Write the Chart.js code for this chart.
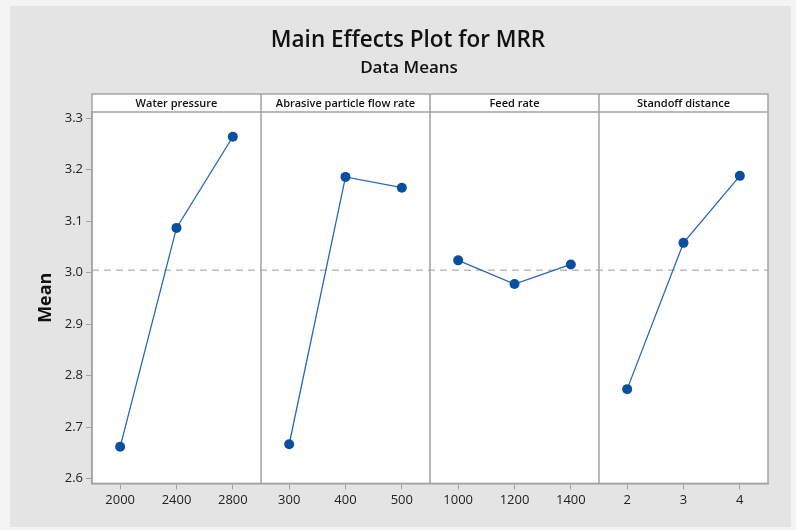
<!DOCTYPE html>
<html>
<head>
<meta charset="utf-8">
<title>Main Effects Plot for MRR</title>
<script src="https://cdn.jsdelivr.net/npm/chart.js@4"></script>
<style>
  html, body { margin: 0; padding: 0; background: #f4f4f4; }
  #wrap { width: 796px; height: 530px; }
</style>
</head>
<body>
<div id="wrap"><canvas id="canvas" width="796" height="530"></canvas></div>
<script>
var chartTitle = 'Main Effects Plot for MRR';
var chartSubtitle = 'Data Means';
var panelNames = ['Water pressure', 'Abrasive particle flow rate', 'Feed rate', 'Standoff distance'];
var levelLabels = ['2000', '2400', '2800', '300', '400', '500', '1000', '1200', '1400', '2', '3', '4'];

var waterPressure = [2.662, 3.087, 3.264];
var abrasiveFlow = [2.667, 3.186, 3.165];
var feedRate = [3.024, 2.978, 3.016];
var standoffDistance = [2.774, 3.058, 3.188];

var grandMean = 3.005;
var yMin = 2.591;
var yMax = 3.312;

var lineColor = '#2566bd';
var dotColor = '#0a4f9e';
var frameColor = '#a3a3a3';

// each factor gets its own 3 slots on the shared category axis
function panelData(values, panel) {
    var out = [];
    for (var i = 0; i < levelLabels.length; i++) out.push(null);
    for (var j = 0; j < values.length; j++) out[panel * 3 + j] = values[j];
    return out;
}

function makeSet(name, values, panel) {
    return {
        label: name,
        data: panelData(values, panel),
        borderColor: lineColor,
        backgroundColor: dotColor,
        borderWidth: 1.3,
        pointRadius: 5,
        pointBackgroundColor: dotColor,
        pointBorderColor: dotColor,
        pointBorderWidth: 0,
        fill: false,
        tension: 0
    };
}

var panelsPlugin = {
    id: 'panels',
    beforeDraw: function(chart) {
        var ctx = chart.ctx;
        var a = chart.chartArea;
        ctx.save();
        ctx.fillStyle = '#f4f4f4';
        ctx.fillRect(0, 0, chart.width, chart.height);
        ctx.fillStyle = '#e4e4e4';
        ctx.fillRect(10, 6, 781, 521);
        ctx.fillStyle = '#ffffff';
        ctx.fillRect(a.left, a.top - 18, a.right - a.left, a.bottom - a.top + 18);
        // titles sit a bit right of the canvas centre, like the original
        ctx.fillStyle = '#111';
        ctx.textAlign = 'center';
        ctx.textBaseline = 'middle';
        ctx.font = '600 22.5px "Open Sans"';
        ctx.fillText(chartTitle, 408, 41);
        ctx.font = '600 17px "Open Sans"';
        ctx.fillText(chartSubtitle, 409, 68.5);
        ctx.restore();
    },
    beforeDatasetsDraw: function(chart) {
        var ctx = chart.ctx;
        var a = chart.chartArea;
        var y = chart.scales.y.getPixelForValue(grandMean);
        ctx.save();
        ctx.strokeStyle = '#9a9a9a';
        ctx.lineWidth = 1;
        ctx.setLineDash([7, 5]);
        ctx.beginPath();
        ctx.moveTo(a.left, y);
        ctx.lineTo(a.right, y);
        ctx.stroke();
        ctx.restore();
    },
    afterDraw: function(chart) {
        var ctx = chart.ctx;
        var a = chart.chartArea;
        var x = chart.scales.x;
        var headTop = a.top - 18;
        ctx.save();
        ctx.strokeStyle = frameColor;
        ctx.lineWidth = 1.5;
        ctx.strokeRect(a.left, headTop, a.right - a.left, a.bottom - headTop);
        ctx.beginPath();
        ctx.moveTo(a.left, a.top);
        ctx.lineTo(a.right, a.top);
        var edges = [a.left];
        for (var p = 1; p < panelNames.length; p++) {
            var sx = (x.getPixelForTick(p * 3 - 1) + x.getPixelForTick(p * 3)) / 2;
            edges.push(sx);
            ctx.moveTo(sx, headTop);
            ctx.lineTo(sx, a.bottom);
        }
        edges.push(a.right);
        ctx.stroke();
        ctx.fillStyle = '#111';
        ctx.font = '600 11px "Open Sans"';
        ctx.textAlign = 'center';
        ctx.textBaseline = 'middle';
        for (var k = 0; k < panelNames.length; k++) {
            ctx.fillText(panelNames[k], (edges[k] + edges[k + 1]) / 2, headTop + 9.5);
        }
        ctx.restore();
    }
};

var config = {
    type: 'line',
    data: {
        labels: levelLabels,
        datasets: [
            makeSet(panelNames[0], waterPressure, 0),
            makeSet(panelNames[1], abrasiveFlow, 1),
            makeSet(panelNames[2], feedRate, 2),
            makeSet(panelNames[3], standoffDistance, 3)
        ]
    },
    options: {
        responsive: false,
        animation: false,
        layout: {
            padding: { left: 0, right: 28, top: 112, bottom: 19 }
        },
        plugins: {
            legend: { display: false },
            tooltip: { enabled: false },
            title: { display: false },
            subtitle: { display: false }
        },
        scales: {
            x: {
                type: 'category',
                offset: true,
                grid: {
                    display: true,
                    drawOnChartArea: false,
                    offset: false,
                    tickLength: 6,
                    color: frameColor
                },
                border: { display: true, color: frameColor, width: 1.5 },
                ticks: {
                    color: '#222',
                    padding: 3,
                    maxRotation: 0,
                    autoSkip: false,
                    font: { family: '"Open Sans"', size: 13 }
                }
            },
            y: {
                min: yMin,
                max: yMax,
                afterFit: function(scale) { scale.width = 92; },
                grid: {
                    display: true,
                    drawOnChartArea: false,
                    tickLength: 6,
                    color: frameColor
                },
                border: { display: true, color: frameColor, width: 1.5 },
                ticks: {
                    stepSize: 0.1,
                    includeBounds: false,
                    color: '#222',
                    padding: 3,
                    font: { family: '"Open Sans"', size: 13 },
                    callback: function(v) { return Number(v).toFixed(1); }
                },
                title: {
                    display: true,
                    text: 'Mean',
                    color: '#111',
                    font: { family: '"Open Sans"', size: 18, weight: 'bold' },
                    padding: { top: 35, bottom: 0 }
                }
            }
        }
    },
    plugins: [panelsPlugin]
};

window.onload = function() {
    var ctx = document.getElementById('canvas').getContext('2d');
    window.myChart = new Chart(ctx, config);
};
</script>
</body>
</html>
